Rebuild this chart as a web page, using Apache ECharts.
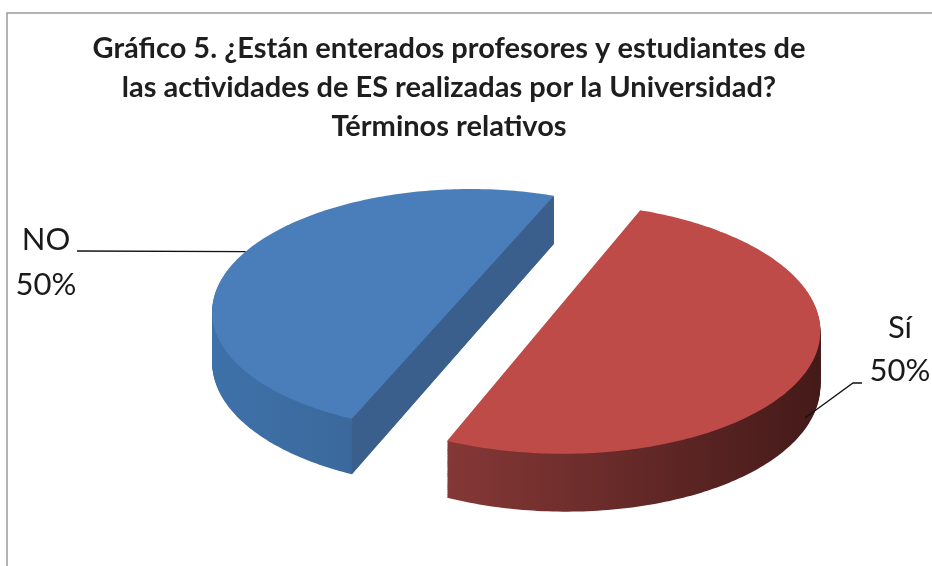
<!DOCTYPE html>
<html>
<head>
<meta charset="utf-8">
<script src="https://cdn.jsdelivr.net/npm/echarts@6/dist/echarts.min.js"></script>
<style>
  html, body { margin: 0; padding: 0; background: #fff; }
  #chart { width: 932px; height: 566px; }
</style>
</head>
<body>
<div id="chart"></div>
<script>
// data
var categories = ['NO', 'Sí'];
var values = [50, 50];
var percentLabels = ['50%', '50%'];

// look
var topColors = ['#4a7ebb', '#be4b48'];
var sideColors = [['#3e71a9', '#375d8a'], ['#853836', '#441a19']];
var cutColors = ['#3a5f8c', '#6e2a29'];

// fake 3d pie: disk in a tilted plane, seen with a bit of perspective
var CX = 505, CY = 308;
var R = 257, RATIO = 0.475, DEPTH = 52;
var EXPLODE = 49, START = 247.5;
var GX = -0.0001, GY = 0.00035;

// label placement
var labelLayout = [
  { x: 46, y: [240, 285], line: [[77, 251]] },
  { x: 900, y: [328, 371], line: [[862, 383], [853, 383]] }
];

var total = values.reduce(function (a, b) { return a + b; }, 0);
var D2R = Math.PI / 180;

function proj(X, Y, h) {
  var w = 1 + GX * X + GY * Y;
  return [CX + X / w, CY + (h - RATIO * Y) / w];
}

function renderSlice(params, api) {
  var i = params.dataIndex;
  var before = 0;
  for (var k = 0; k < i; k++) before += values[k];
  var a1 = START - before / total * 360;
  var a2 = a1 - api.value(0) / total * 360;
  var mid = (a1 + a2) / 2;
  var ex = EXPLODE * Math.cos(mid * D2R);
  var ey = EXPLODE * Math.sin(mid * D2R);

  function onRim(a, h) {
    return proj(ex + R * Math.cos(a * D2R), ey + R * Math.sin(a * D2R), h);
  }
  function face(h) {
    var pts = [proj(ex, ey, h)];
    var n = Math.ceil(a1 - a2);
    for (var j = 0; j <= n; j++) pts.push(onRim(a1 - (a1 - a2) * j / n, h));
    return pts;
  }

  var children = [];
  var sideFill = new echarts.graphic.LinearGradient(0, 0, 1, 0, [
    { offset: 0, color: sideColors[i][0] },
    { offset: 1, color: sideColors[i][1] }
  ]);
  for (var d = DEPTH; d >= 1; d--) {
    children.push({ type: 'polygon', shape: { points: face(d) }, style: { fill: sideFill } });
  }
  // flat cut faces that look toward the viewer
  [[a1, a1 + 90], [a2, a2 - 90]].forEach(function (e) {
    if (Math.sin(e[1] * D2R) < 0) {
      children.push({
        type: 'polygon',
        shape: { points: [proj(ex, ey, 0), onRim(e[0], 0), onRim(e[0], DEPTH), proj(ex, ey, DEPTH)] },
        style: { fill: cutColors[i] }
      });
    }
  });
  children.push({ type: 'polygon', shape: { points: face(0) }, style: { fill: topColors[i] } });

  // label + leader
  var la = mid - 2.5;
  var anchor = onRim(la, Math.sin(la * D2R) < 0 ? DEPTH * 0.8 : 0);
  var lay = labelLayout[i];
  children.push({
    type: 'polyline',
    shape: { points: lay.line.concat([anchor]) },
    style: { stroke: '#111', lineWidth: 1.3, fill: null }
  });
  [categories[i], percentLabels[i]].forEach(function (t, j) {
    children.push({
      type: 'text', x: lay.x, y: lay.y[j],
      style: {
        text: t, fill: '#1a1a1a', font: '31px Lato',
        align: 'center', verticalAlign: 'middle'
      }
    });
  });

  return { type: 'group', children: children };
}

var chart = echarts.init(document.getElementById('chart'));
chart.setOption({
  backgroundColor: '#fff',
  animation: false,
  title: {
    text: 'Gráfico 5. ¿Están enterados profesores y estudiantes de\nlas actividades de ES realizadas por la Universidad?\nTérminos relativos',
    left: 449,
    top: 29,
    padding: 0,
    textAlign: 'center',
    textStyle: {
      fontFamily: 'Lato', fontWeight: 'bold', fontSize: 29,
      lineHeight: 39, color: '#1e1e1e'
    }
  },
  graphic: [{
    type: 'rect', silent: true, z: -1,
    shape: { x: 7, y: 13, width: 940, height: 570 },
    style: { fill: null, stroke: '#9a9a9a', lineWidth: 1.5 }
  }],
  series: [{
    type: 'custom',
    coordinateSystem: 'none',
    renderItem: renderSlice,
    data: values.map(function (v, i) { return { name: categories[i], value: [v] }; })
  }]
});
</script>
</body>
</html>
